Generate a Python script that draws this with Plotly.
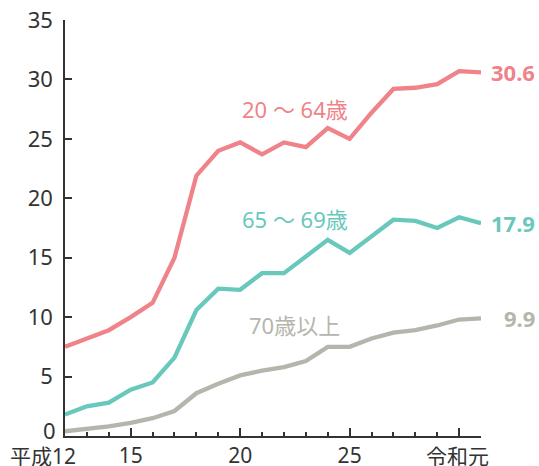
import plotly.graph_objects as go

# 平成12年〜令和元年
years = list(range(12, 32))
tick_vals = [5, 10, 15, 20, 25, 30, 35]
x_tick_vals = [15, 20, 25]
x_tick_text = ["15", "20", "25"]

age_20_64 = [7.5, 8.2, 8.9, 10.0, 11.2, 15.0, 21.9, 24.0, 24.7, 23.7,
             24.7, 24.3, 25.9, 25.0, 27.2, 29.2, 29.3, 29.6, 30.7, 30.6]
age_65_69 = [1.8, 2.5, 2.8, 3.9, 4.5, 6.6, 10.6, 12.4, 12.3, 13.7,
             13.7, 15.1, 16.5, 15.4, 16.8, 18.2, 18.1, 17.5, 18.4, 17.9]
age_70_up = [0.4, 0.6, 0.8, 1.1, 1.5, 2.1, 3.6, 4.4, 5.1, 5.5,
             5.8, 6.3, 7.5, 7.5, 8.2, 8.7, 8.9, 9.3, 9.8, 9.9]

series = [
    ("20 ～ 64歳", age_20_64, "#F0828A", 25.9),
    ("65 ～ 69歳", age_65_69, "#68C8BC", 16.7),
    ("70歳以上", age_70_up, "#B4B6AC", 7.7),
]

font = "Noto Sans, Noto Sans CJK JP"
fig = go.Figure()
for name, vals, color, label_y in series:
    fig.add_trace(go.Scatter(x=years, y=vals, mode="lines", name=name,
                             line=dict(color=color, width=4.3)))
    # series name in the plot
    fig.add_annotation(x=22.5, y=label_y, text=name, showarrow=False,
                       font=dict(family=font, size=22, color=color),
                       xanchor="center", yanchor="bottom", yshift=2)
    # last value on the right
    fig.add_annotation(x=years[-1], y=vals[-1], text="<b>%.1f</b>" % vals[-1],
                       showarrow=False, xanchor="right", xshift=56,
                       font=dict(family=font, size=22, color=color))

# era labels at the ends of the x axis, and the raised 0 label
fig.add_annotation(x=12, y=0, text="平成12", showarrow=False, xanchor="right",
                   yanchor="top", xshift=13, yshift=-4,
                   font=dict(family=font, size=21, color="#333333"))
fig.add_annotation(x=31, y=0, text="令和元", showarrow=False, xanchor="right",
                   yanchor="top", xshift=10, yshift=-4,
                   font=dict(family=font, size=21, color="#333333"))
fig.add_annotation(x=12, y=0, text="0", showarrow=False, xanchor="right",
                   yanchor="middle", xshift=-7, yshift=6,
                   font=dict(family=font, size=22, color="#333333"))

fig.update_layout(
    width=539, height=466,
    margin=dict(l=65, r=58, t=20, b=30),
    paper_bgcolor="white", plot_bgcolor="white",
    showlegend=False,
    font=dict(family=font, size=22, color="#333333"),
)
fig.update_xaxes(range=[12, 31], tickvals=x_tick_vals + [30, 31], ticktext=x_tick_text + ["", ""],
                 ticks="inside", ticklen=8, tickcolor="#333333", tickwidth=1.5,
                 minor=dict(ticks="inside", ticklen=4, dtick=1, tick0=12,
                            tickcolor="#333333", tickwidth=1.5),
                 showline=True, linecolor="#333333", linewidth=1.5, automargin=False,
                 showgrid=False, zeroline=False, tickfont=dict(size=21))
fig.update_yaxes(range=[0, 35], tickvals=tick_vals, ticks="inside", ticklen=7,
                 tickcolor="#333333", tickwidth=1.5, automargin=False,
                 showline=True, linecolor="#333333", linewidth=1.5,
                 showgrid=False, zeroline=False, ticklabelstandoff=6)

# the page body has a default 8px margin; drop it so the chart fills the window
fig.write_html("out.html", config={"displayModeBar": False},
               post_script="document.body.style.margin='0';")
